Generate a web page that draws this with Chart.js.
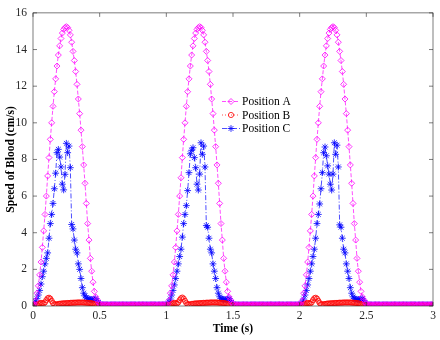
<!DOCTYPE html>
<html>
<head>
<meta charset="utf-8">
<script src="https://cdn.jsdelivr.net/npm/chart.js@4.4.0/dist/chart.umd.min.js"></script>
<style>
  html, body { margin: 0; padding: 0; background: #fff; }
</style>
</head>
<body>
<canvas id="bloodChart" width="440" height="340"></canvas>
<script>
// sampling grid: 0 .. 3 s, every 0.01 s
var time = [];
for (var i = 0; i <= 300; i++) time.push(+(i * 0.01).toFixed(2));

var xTicks = [0, 0.5, 1, 1.5, 2, 2.5, 3];
var yTicks = [0, 2, 4, 6, 8, 10, 12, 14, 16];

// Position A, one array per heart beat (100 samples each)
var posA_1 = [0.05,0.1,0.3,0.7,1.1,1.7,2.4,3.2,4.1,5.0,
  6.0,7.1,8.1,9.1,10.0,10.9,11.7,12.4,13.1,13.7,
  14.2,14.6,14.9,15.1,15.2,15.25,15.2,15.05,14.8,14.4,
  13.9,13.4,12.8,12.1,11.3,10.5,9.6,8.7,7.7,6.7,
  5.6,4.5,3.6,2.6,1.9,1.3,0.8,0.5,0.35,0.2,
  0.1,0.08,0.07,0.07,0.08,0.07,0.07,0.06,0.07,0.07,
  0.08,0.07,0.07,0.07,0.06,0.07,0.07,0.08,0.07,0.07,
  0.07,0.06,0.07,0.07,0.07,0.08,0.07,0.07,0.06,0.07,
  0.07,0.07,0.08,0.07,0.07,0.07,0.06,0.07,0.07,0.07,
  0.08,0.07,0.07,0.06,0.07,0.07,0.07,0.08,0.07,0.07];
var posA_2 = [0.05,0.1,0.3,0.7,1.1,1.7,2.4,3.2,4.1,5.0,
  6.0,7.0,8.1,9.1,10.0,10.9,11.7,12.4,13.1,13.7,
  14.2,14.6,14.9,15.1,15.2,15.25,15.2,15.05,14.8,14.4,
  13.9,13.4,12.8,12.1,11.3,10.5,9.6,8.7,7.7,6.7,
  5.6,4.5,3.6,2.6,1.9,1.3,0.8,0.5,0.35,0.2,
  0.1,0.07,0.08,0.07,0.07,0.06,0.07,0.07,0.08,0.07,
  0.07,0.07,0.06,0.07,0.07,0.08,0.07,0.07,0.07,0.06,
  0.07,0.08,0.07,0.07,0.07,0.06,0.07,0.07,0.08,0.07,
  0.07,0.06,0.07,0.07,0.07,0.08,0.07,0.07,0.07,0.06,
  0.07,0.07,0.08,0.07,0.07,0.07,0.06,0.07,0.07,0.08];
var posA_3 = [0.05,0.1,0.3,0.7,1.1,1.7,2.4,3.2,4.1,5.0,
  6.0,7.1,8.1,9.1,10.0,10.9,11.7,12.4,13.1,13.7,
  14.2,14.6,14.9,15.1,15.2,15.25,15.2,15.05,14.8,14.4,
  13.9,13.4,12.8,12.1,11.3,10.5,9.6,8.7,7.7,6.7,
  5.6,4.5,3.6,2.6,1.9,1.3,0.8,0.5,0.35,0.2,
  0.1,0.08,0.07,0.07,0.07,0.06,0.07,0.08,0.07,0.07,
  0.07,0.06,0.07,0.07,0.08,0.07,0.07,0.07,0.06,0.07,
  0.07,0.08,0.07,0.07,0.06,0.07,0.07,0.07,0.08,0.07,
  0.07,0.06,0.07,0.07,0.07,0.08,0.07,0.07,0.06,0.07,
  0.07,0.07,0.08,0.07,0.07,0.06,0.07,0.07,0.07,0.08];
var posA_end = [0.07];

// Position B
var posB_1 = [0.02,0.03,0.05,0.08,0.12,0.15,0.17,0.15,0.14,0.2,
  0.32,0.42,0.45,0.4,0.28,0.16,0.1,0.08,0.09,0.11,
  0.12,0.13,0.14,0.14,0.15,0.15,0.16,0.16,0.17,0.17,
  0.18,0.18,0.18,0.19,0.19,0.19,0.19,0.19,0.19,0.18,
  0.18,0.17,0.17,0.16,0.15,0.13,0.1,0.07,0.05,0.03,
  0.02,0.02,0.02,0.02,0.02,0.02,0.02,0.02,0.02,0.02,
  0.02,0.02,0.02,0.02,0.02,0.02,0.02,0.02,0.02,0.02,
  0.02,0.02,0.02,0.02,0.02,0.02,0.02,0.02,0.02,0.02,
  0.02,0.02,0.02,0.02,0.02,0.02,0.02,0.02,0.02,0.02,
  0.02,0.02,0.02,0.02,0.02,0.02,0.02,0.02,0.02,0.02];
var posB_2 = [0.02,0.03,0.05,0.08,0.12,0.15,0.17,0.15,0.14,0.2,
  0.32,0.42,0.46,0.4,0.28,0.16,0.1,0.08,0.09,0.11,
  0.12,0.13,0.14,0.14,0.15,0.15,0.16,0.16,0.17,0.17,
  0.18,0.18,0.18,0.19,0.19,0.19,0.19,0.19,0.19,0.18,
  0.18,0.17,0.17,0.16,0.15,0.13,0.1,0.07,0.05,0.03,
  0.02,0.02,0.02,0.02,0.02,0.02,0.02,0.02,0.02,0.02,
  0.02,0.02,0.02,0.02,0.02,0.02,0.02,0.02,0.02,0.02,
  0.02,0.02,0.02,0.02,0.02,0.02,0.02,0.02,0.02,0.02,
  0.02,0.02,0.02,0.02,0.02,0.02,0.02,0.02,0.02,0.02,
  0.02,0.02,0.02,0.02,0.02,0.02,0.02,0.02,0.02,0.02];
var posB_3 = [0.02,0.03,0.05,0.08,0.12,0.15,0.17,0.15,0.14,0.2,
  0.32,0.42,0.45,0.4,0.28,0.16,0.1,0.08,0.09,0.11,
  0.12,0.13,0.14,0.14,0.15,0.15,0.16,0.16,0.17,0.17,
  0.18,0.18,0.18,0.19,0.19,0.19,0.19,0.19,0.19,0.18,
  0.18,0.17,0.17,0.16,0.15,0.13,0.1,0.07,0.05,0.03,
  0.02,0.02,0.02,0.02,0.02,0.02,0.02,0.02,0.02,0.02,
  0.02,0.02,0.02,0.02,0.02,0.02,0.02,0.02,0.02,0.02,
  0.02,0.02,0.02,0.02,0.02,0.02,0.02,0.02,0.02,0.02,
  0.02,0.02,0.02,0.02,0.02,0.02,0.02,0.02,0.02,0.02,
  0.02,0.02,0.02,0.02,0.02,0.02,0.02,0.02,0.02,0.02];
var posB_end = [0.02];

// Position C
var posC_1 = [0.05,0.12,0.25,0.4,0.6,0.85,1.2,1.6,1.9,2.3,
  2.6,2.9,3.7,4.5,5.0,5.6,6.4,7.25,8.37,8.55,
  8.13,7.59,6.65,6.34,7.19,8.88,8.37,8.73,7.55,4.45,
  4.21,3.6,3.1,2.9,2.3,2.0,1.5,1.0,0.7,0.55,
  0.45,0.4,0.38,0.36,0.35,0.35,0.36,0.4,0.3,0.18,
  0.1,0.06,0.06,0.06,0.06,0.06,0.06,0.06,0.06,0.06,
  0.06,0.06,0.06,0.06,0.06,0.06,0.06,0.06,0.06,0.06,
  0.06,0.06,0.06,0.06,0.06,0.06,0.06,0.06,0.06,0.06,
  0.06,0.06,0.06,0.06,0.06,0.06,0.06,0.06,0.06,0.06,
  0.06,0.06,0.06,0.06,0.06,0.06,0.06,0.06,0.06,0.06];
var posC_2 = [0.05,0.1,0.22,0.38,0.6,0.85,1.15,1.5,1.9,2.3,
  2.7,3.1,3.76,4.5,5.0,5.48,6.3,7.28,8.31,8.5,
  8.64,8.1,7.55,6.65,6.33,7.2,8.91,8.28,8.73,7.59,
  4.39,4.3,3.7,3.1,2.9,2.3,1.9,1.5,1.0,0.7,
  0.5,0.42,0.38,0.36,0.35,0.35,0.38,0.4,0.3,0.18,
  0.1,0.06,0.06,0.06,0.06,0.06,0.06,0.06,0.06,0.06,
  0.06,0.06,0.06,0.06,0.06,0.06,0.06,0.06,0.06,0.06,
  0.06,0.06,0.06,0.06,0.06,0.06,0.06,0.06,0.06,0.06,
  0.06,0.06,0.06,0.06,0.06,0.06,0.06,0.06,0.06,0.06,
  0.06,0.06,0.06,0.06,0.06,0.06,0.06,0.06,0.06,0.06];
var posC_3 = [0.05,0.1,0.22,0.38,0.6,0.85,1.15,1.5,1.9,2.3,
  2.7,3.1,3.7,4.5,5.0,5.57,6.4,7.28,8.37,8.68,
  8.2,7.65,7.2,6.65,6.33,7.2,8.91,8.28,8.78,7.59,
  4.43,4.3,3.7,3.1,2.9,2.3,1.9,1.5,1.0,0.7,
  0.5,0.42,0.38,0.36,0.35,0.35,0.38,0.4,0.3,0.18,
  0.1,0.06,0.06,0.06,0.06,0.06,0.06,0.06,0.06,0.06,
  0.06,0.06,0.06,0.06,0.06,0.06,0.06,0.06,0.06,0.06,
  0.06,0.06,0.06,0.06,0.06,0.06,0.06,0.06,0.06,0.06,
  0.06,0.06,0.06,0.06,0.06,0.06,0.06,0.06,0.06,0.06,
  0.06,0.06,0.06,0.06,0.06,0.06,0.06,0.06,0.06,0.06];
var posC_end = [0.06];

var posA = posA_1.concat(posA_2, posA_3, posA_end);
var posB = posB_1.concat(posB_2, posB_3, posB_end);
var posC = posC_1.concat(posC_2, posC_3, posC_end);

function toPoints(values) {
    var pts = [];
    for (var i = 0; i < values.length; i++) {
        pts.push({ x: time[i], y: values[i] });
    }
    return pts;
}

var axisColor = '#262626';

// box round the plot with inward ticks on all four sides (matlab look)
var boxPlugin = {
    id: 'boxAxes',
    afterDatasetsDraw: function(chart) {
        var ctx = chart.ctx, a = chart.chartArea;
        var xs = chart.scales.x, ys = chart.scales.y;
        var tl = 4;
        ctx.save();
        ctx.strokeStyle = axisColor;
        ctx.lineWidth = 0.6;
        ctx.setLineDash([]);
        ctx.strokeRect(a.left, a.top, a.right - a.left, a.bottom - a.top);
        ctx.beginPath();
        xTicks.forEach(function(v) {
            var px = xs.getPixelForValue(v);
            ctx.moveTo(px, a.bottom); ctx.lineTo(px, a.bottom - tl);
            ctx.moveTo(px, a.top); ctx.lineTo(px, a.top + tl);
        });
        yTicks.forEach(function(v) {
            var py = ys.getPixelForValue(v);
            ctx.moveTo(a.left, py); ctx.lineTo(a.left + tl, py);
            ctx.moveTo(a.right, py); ctx.lineTo(a.right - tl, py);
        });
        ctx.stroke();
        ctx.restore();
    }
};

// legend inside the plot: short line with marker, then label
var legendPlugin = {
    id: 'lineLegend',
    afterDraw: function(chart) {
        var ctx = chart.ctx;
        var x0 = 222, x1 = 240, rowY = [101.5, 115, 128.5];
        ctx.save();
        chart.data.datasets.forEach(function(ds, i) {
            var y = rowY[i];
            ctx.strokeStyle = ds.borderColor;
            ctx.lineWidth = ds.borderWidth;
            ctx.setLineDash(ds.borderDash);
            ctx.beginPath();
            ctx.moveTo(x0, y);
            ctx.lineTo(x1, y);
            ctx.stroke();
            ctx.setLineDash([]);
            ctx.lineWidth = ds.pointBorderWidth;
            ctx.fillStyle = 'rgba(0,0,0,0)';
            Chart.helpers.drawPoint(ctx, {
                pointStyle: ds.pointStyle,
                radius: ds.pointRadius,
                rotation: 0,
                borderWidth: ds.pointBorderWidth
            }, (x0 + x1) / 2, y);
            ctx.fillStyle = '#000';
            ctx.font = '11.5px "Liberation Serif"';
            ctx.textBaseline = 'middle';
            ctx.textAlign = 'left';
            ctx.fillText(ds.label, x1 + 2, y + 0.5);
        });
        ctx.restore();
    }
};

Chart.defaults.font.family = '"Liberation Serif", "Times New Roman", serif';

var ctx = document.getElementById('bloodChart').getContext('2d');
var bloodChart = new Chart(ctx, {
    type: 'line',
    data: {
        datasets: [{
            label: 'Position A',
            data: toPoints(posA),
            borderColor: '#ff00ff',
            borderWidth: 0.7,
            borderDash: [4, 2],
            pointStyle: 'rectRot',
            pointRadius: 3,
            pointBorderColor: '#ff00ff',
            pointBackgroundColor: 'rgba(0,0,0,0)',
            pointBorderWidth: 0.8,
            tension: 0,
            fill: false
        }, {
            label: 'Position B',
            data: toPoints(posB),
            borderColor: '#ff0000',
            borderWidth: 0.7,
            borderDash: [1, 2],
            pointStyle: 'circle',
            pointRadius: 2.6,
            pointBorderColor: '#ff0000',
            pointBackgroundColor: 'rgba(0,0,0,0)',
            pointBorderWidth: 0.8,
            tension: 0,
            fill: false
        }, {
            label: 'Position C',
            data: toPoints(posC),
            borderColor: '#0000ff',
            borderWidth: 0.7,
            borderDash: [5, 2, 1, 2],
            pointStyle: 'star',
            pointRadius: 3.4,
            pointBorderColor: '#0000ff',
            pointBackgroundColor: 'rgba(0,0,0,0)',
            pointBorderWidth: 0.8,
            tension: 0,
            fill: false
        }]
    },
    options: {
        responsive: false,
        animation: false,
        devicePixelRatio: 1,
        layout: { padding: { left: 0, right: 7, top: 10, bottom: 0 } },
        plugins: {
            legend: { display: false },
            tooltip: { enabled: false }
        },
        scales: {
            x: {
                type: 'linear',
                min: 0,
                max: 3,
                afterFit: function(scale) { scale.height = 34; },
                afterBuildTicks: function(scale) {
                    scale.ticks = xTicks.map(function(v) { return { value: v }; });
                },
                ticks: {
                    color: axisColor,
                    font: { size: 11.5 },
                    padding: 3,
                    maxRotation: 0,
                    autoSkip: false,
                    callback: function(v) { return String(v); }
                },
                grid: { display: false, drawTicks: false },
                border: { display: false },
                title: {
                    display: true,
                    text: 'Time (s)',
                    color: '#000',
                    font: { size: 11.5, weight: 'bold' },
                    padding: { top: 0, bottom: 4 }
                }
            },
            y: {
                min: 0,
                max: 16,
                afterFit: function(scale) { scale.width = 33; },
                afterBuildTicks: function(scale) {
                    scale.ticks = yTicks.map(function(v) { return { value: v }; });
                },
                ticks: {
                    color: axisColor,
                    font: { size: 11.5 },
                    padding: 6,
                    autoSkip: false,
                    callback: function(v) { return String(v); }
                },
                grid: { display: false, drawTicks: false },
                border: { display: false },
                title: {
                    display: true,
                    text: 'Speed of Blood (cm/s)',
                    color: '#000',
                    font: { size: 11.5, weight: 'bold' },
                    padding: { top: 4, bottom: 0 }
                }
            }
        }
    },
    plugins: [boxPlugin, legendPlugin]
});
</script>
</body>
</html>
